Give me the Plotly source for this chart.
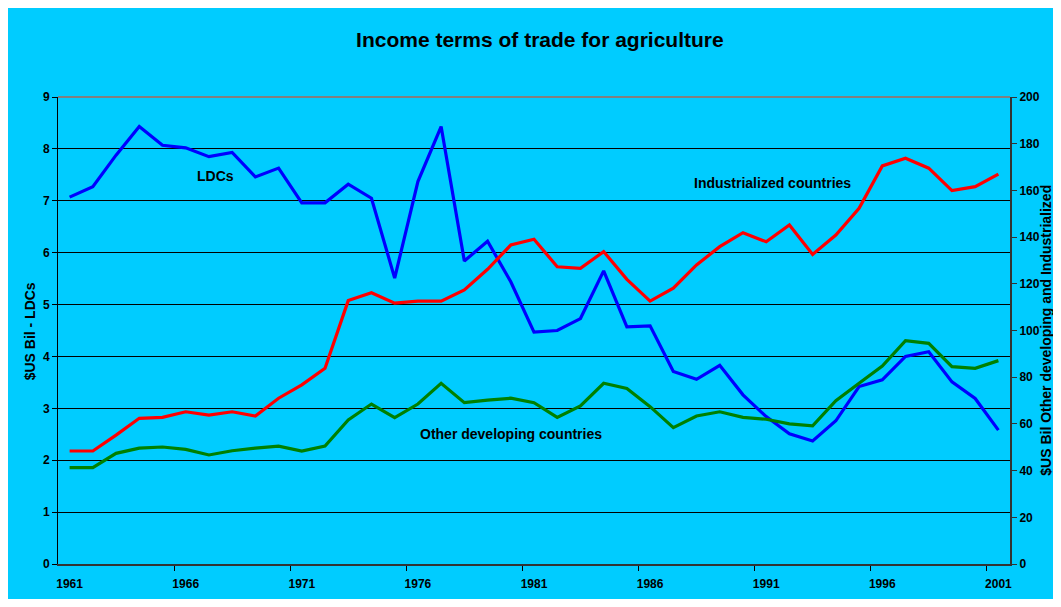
import plotly.graph_objects as go

years = list(range(1961, 2002))

ldcs = [7.07, 7.27, 7.88, 8.43, 8.07, 8.02, 7.85, 7.93, 7.46, 7.63,
        6.96, 6.96, 7.32, 7.05, 5.51, 7.37, 8.43, 5.84, 6.22, 5.44,
        4.47, 4.50, 4.73, 5.65, 4.57, 4.59, 3.71, 3.56, 3.83, 3.26,
        2.84, 2.51, 2.37, 2.76, 3.42, 3.55, 4.00, 4.09, 3.51, 3.19, 2.58]

industrialized = [48.4, 48.4, 55.2, 62.4, 62.8, 65.2, 63.8, 65.2, 63.4, 71.0,
                  76.7, 83.8, 112.8, 116.2, 111.7, 112.6, 112.6, 117.4, 126.2, 136.6,
                  139.1, 127.3, 126.6, 133.8, 121.9, 112.6, 118.1, 128.1, 135.9, 141.9,
                  138.0, 145.2, 132.6, 140.9, 152.3, 170.5, 173.8, 169.5, 159.9, 161.6, 167.0]

other_dev = [41.3, 41.3, 47.4, 49.6, 50.1, 49.1, 46.7, 48.5, 49.6, 50.5,
             48.4, 50.5, 61.7, 68.5, 62.7, 68.5, 77.4, 69.1, 70.2, 71.0,
             69.1, 62.8, 67.7, 77.4, 75.2, 67.4, 58.4, 63.4, 65.2, 62.8,
             62.0, 60.0, 59.2, 69.9, 77.4, 84.8, 95.6, 94.5, 84.5, 83.8, 87.1]

xlabels = [1961, 1966, 1971, 1976, 1981, 1986, 1991, 1996, 2001]
left_ticks = list(range(0, 10))
right_ticks = list(range(0, 201, 20))

FONT = "Liberation Sans, Arial"
BG = "#00CCFF"

fig = go.Figure()
fig.add_trace(go.Scatter(x=years, y=industrialized, mode="lines", yaxis="y2",
                         line=dict(color="#FF0000", width=3.2), name="Industrialized countries"))
fig.add_trace(go.Scatter(x=years, y=other_dev, mode="lines", yaxis="y2",
                         line=dict(color="#008000", width=3.2), name="Other developing countries"))
fig.add_trace(go.Scatter(x=years, y=ldcs, mode="lines", yaxis="y",
                         line=dict(color="#0000FF", width=3.2), name="LDCs"))

tickfont = dict(family=FONT, size=12, color="black", weight="bold")

fig.update_layout(
    width=1045, height=591,
    margin=dict(l=50, r=43, t=89, b=35, autoexpand=False),
    paper_bgcolor=BG,
    plot_bgcolor=BG,
    showlegend=False,
    title=dict(text="Income terms of trade for agriculture", x=0.509, xref="container",
               y=0.946, yref="container", xanchor="center", yanchor="middle",
               font=dict(family=FONT, size=21, color="black", weight="bold")),
    xaxis=dict(range=[1960.5, 2001.5], tickvals=xlabels, ticktext=[str(v) for v in xlabels],
               ticks="", showgrid=False, zeroline=False, automargin=False,
               showline=True, linecolor="#333333", linewidth=2,
               tickfont=tickfont, ticklabelstandoff=8,
               minor=dict(tickvals=[1965.5 + 5 * k for k in range(8)], ticks="outside",
                          ticklen=5, tickcolor="black", tickwidth=1, showgrid=False)),
    yaxis=dict(range=[0, 9], tickvals=left_ticks, ticks="outside", ticklen=5,
               tickcolor="black", showgrid=True, gridcolor="black", gridwidth=1,
               zeroline=False, showline=True, linecolor="black", linewidth=1,
               automargin=False, tickfont=tickfont),
    yaxis2=dict(range=[0, 200], tickvals=right_ticks, overlaying="y", side="right",
                ticks="outside", ticklen=5, tickcolor="#333333", showgrid=False,
                zeroline=False, showline=True, linecolor="#333333", linewidth=2,
                automargin=False, tickfont=tickfont),
    shapes=[
        dict(type="line", xref="paper", yref="paper", x0=0, x1=1, y0=1, y1=1,
             line=dict(color="#808080", width=2), layer="above"),
    ],
    annotations=[
        dict(text="LDCs", x=1967.3, y=7.48, xref="x", yref="y", showarrow=False,
             font=dict(family=FONT, size=14, color="black", weight="bold")),
        dict(text="Industrialized countries", x=1991.25, y=7.34, xref="x", yref="y", showarrow=False,
             font=dict(family=FONT, size=14, color="black", weight="bold")),
        dict(text="Other developing countries", x=1980.0, y=2.51, xref="x", yref="y", showarrow=False,
             font=dict(family=FONT, size=14, color="black", weight="bold")),
        dict(text="$US Bil - LDCs", x=-0.029, y=0.499, xref="paper", yref="paper",
             xanchor="center", yanchor="middle",
             showarrow=False, textangle=-90,
             font=dict(family=FONT, size=14, color="black", weight="bold")),
        dict(text="$US Bil Other developing and Industrialized", x=1.037, y=0.5,
             xref="paper", yref="paper", xanchor="center", yanchor="middle",
             showarrow=False, textangle=-90,
             font=dict(family=FONT, size=14, color="black", weight="bold")),
    ],
)

fig.write_html("out.html")
